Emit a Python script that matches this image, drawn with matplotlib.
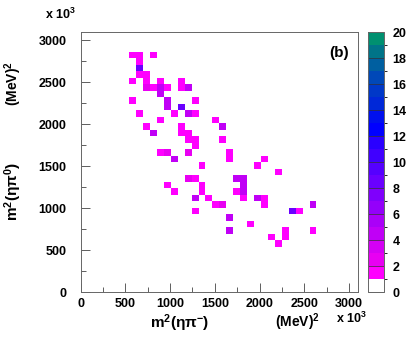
"""Dalitz plot m2(eta pi-) vs m2(eta pi0), panel (b)."""
import numpy as np
import matplotlib
matplotlib.use("Agg")
import matplotlib.pyplot as plt
from matplotlib.colors import ListedColormap, BoundaryNorm

plt.rcParams["font.family"] = ["Liberation Sans", "DejaVu Sans"]
plt.rcParams["font.weight"] = "bold"
plt.rcParams["mathtext.fontset"] = "custom"
plt.rcParams["mathtext.rm"] = "Liberation Sans:bold"
plt.rcParams["mathtext.it"] = "Liberation Sans:bold"
plt.rcParams["mathtext.default"] = "rm"

# filled bins: x, y in 10^3 MeV^2 (bin centres), entries
m2_etapim = [581, 659, 814, 659, 659, 659, 736, 581, 736, 891, 1124,
             736, 814, 891, 969, 1124, 1201, 891, 581, 969, 1279,
             969, 1124, 659, 1046, 1201, 1279, 891, 1511, 736, 1124, 1589,
             814, 1124, 1201, 1201, 1279, 1589, 1279, 891, 969, 1201, 1666,
             1046, 1666, 2054, 1356, 1976, 2209, 1201, 1279, 1744, 1821,
             969, 1356, 1821, 1046, 1356, 1744, 1821, 1279, 1434, 1821, 1976, 2054,
             1511, 1589, 2054, 2596, 1279, 2364, 2441, 1666, 1899, 1666, 2286, 2596,
             2131, 2286, 2209]
m2_etapi0 = [2829, 2829, 2829, 2751, 2674, 2596, 2596, 2519, 2519, 2519, 2519,
             2441, 2441, 2441, 2441, 2441, 2441, 2364, 2286, 2286, 2286,
             2209, 2209, 2131, 2131, 2131, 2131, 2054, 2054, 1976, 1976, 1976,
             1899, 1899, 1899, 1821, 1821, 1821, 1744, 1666, 1666, 1666, 1666,
             1589, 1589, 1589, 1511, 1511, 1434, 1356, 1356, 1356, 1356,
             1279, 1279, 1279, 1201, 1201, 1201, 1201, 1124, 1124, 1124, 1124, 1124,
             1046, 1046, 1046, 1046, 969, 969, 969, 891, 814, 736, 736, 736,
             659, 659, 581]
entries = [1, 1, 1, 1, 8, 1, 1, 1, 1, 1, 1,
           2, 1, 4, 1, 1, 4, 4, 1, 4, 1,
           4, 8, 1, 1, 4, 1, 1, 1, 1, 1, 4,
           4, 1, 1, 1, 1, 1, 1, 1, 2, 2, 1,
           4, 1, 1, 1, 1, 1, 2, 1, 4, 4,
           1, 1, 4, 1, 1, 1, 4, 4, 1, 1, 4, 1,
           1, 2, 1, 4, 1, 8, 1, 4, 1, 4, 1, 1,
           1, 1, 1]

pal = ["#ffffff", "#ff00ff", "#e800f2", "#d400f4", "#c000f6", "#aa00f8",
       "#9400fa", "#7f00fc", "#6a00ff", "#5500ff", "#4000ff", "#2a00ff",
       "#0000ff", "#0010ee", "#0028d8", "#0038c8", "#0048b8", "#005fa0",
       "#007488", "#009070"]

edges = np.linspace(0, 3100, 41)
H, xe, ye = np.histogram2d(m2_etapim, m2_etapi0, bins=[edges, edges], weights=entries)

fig = plt.figure(figsize=(4.15, 3.38), dpi=100)
ax = fig.add_axes([0.194, 0.136, 0.669, 0.769])
cmap = ListedColormap(pal)
norm = BoundaryNorm(np.arange(0, 21), cmap.N)
mesh = ax.pcolormesh(xe, ye, H.T, cmap=cmap, norm=norm, antialiased=False)

ax.set_xlim(0, 3100); ax.set_ylim(0, 3100)
ax.set_xticks(np.arange(0, 3001, 500)); ax.set_yticks(np.arange(0, 3001, 500))
ax.set_xticks(np.arange(250, 3100, 500), minor=True)
ax.set_yticks(np.arange(250, 3100, 500), minor=True)
ax.tick_params(which="both", direction="in", top=False, right=False,
               labelsize=9, color="#444444")
ax.tick_params(which="major", length=6.5, width=0.6)
ax.tick_params(which="minor", length=3.5, width=0.6)
ax.tick_params(axis="y", pad=10)
ax.tick_params(axis="x", pad=4)
for s in ax.spines.values():
    s.set_color("#666666"); s.set_linewidth(0.7)
ax.text(0.965, 0.945, "(b)", transform=ax.transAxes, ha="right", va="top",
        fontsize=11, fontweight="bold")

# colour scale
cax = fig.add_axes([0.887, 0.136, 0.0386, 0.769])
cb = fig.colorbar(mesh, cax=cax, ticks=range(0, 21, 2))
cb.outline.set_edgecolor("#666666"); cb.outline.set_linewidth(0.7)
cax.tick_params(direction="in", length=11.5, width=0.5, color="#333333",
                labelsize=9, pad=6)

fig.text(0.145, 0.956, r"x $10^{3}$", ha="center", va="center", fontsize=9)
fig.text(0.846, 0.058, r"x $10^{3}$", ha="center", va="center", fontsize=9)
fig.text(0.434, 0.044, r"$m^{2}(\eta\pi^{-})$", ha="center", va="center", fontsize=11)
fig.text(0.716, 0.047, r"$(MeV)^{2}$", ha="center", va="center", fontsize=10)
fig.text(0.031, 0.432, r"$m^{2}(\eta\pi^{0})$", ha="center", va="center",
         fontsize=11, rotation=90)
fig.text(0.031, 0.754, r"$(MeV)^{2}$", ha="center", va="center",
         fontsize=10, rotation=90)

fig.savefig("out.png", dpi=100)
plt.close(fig)
